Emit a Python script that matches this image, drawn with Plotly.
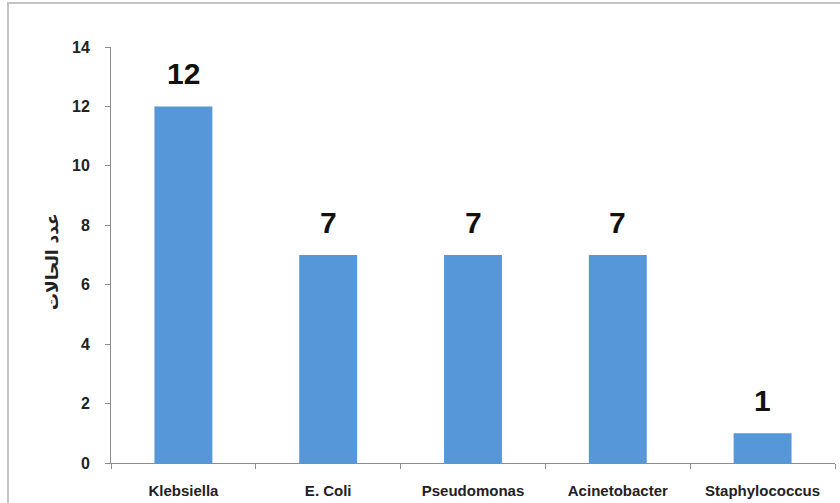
import plotly.graph_objects as go

# Number of cases per organism
organisms = ["Klebsiella", "E. Coli", "Pseudomonas", "Acinetobacter", "Staphylococcus"]
cases = [12, 7, 7, 7, 1]
y_ticks = [0, 2, 4, 6, 8, 10, 12, 14]

W, H = 840, 503
ML, MR, MT, MB = 111, 5, 47, 40
pw, ph = W - ML - MR, H - MT - MB


def px_x(x):
    return (x - ML) / pw


def px_y(y):
    return (H - MB - y) / ph


fig = go.Figure(
    go.Bar(
        x=organisms,
        y=cases,
        marker=dict(color="#5597d8", line=dict(width=0)),
        cliponaxis=False,
    )
)

# value labels above each bar
value_labels = [
    dict(
        x=org,
        y=val,
        xref="x",
        yref="y",
        text=str(val),
        showarrow=False,
        yanchor="bottom",
        yshift=14,
        font=dict(family="Liberation Sans Narrow, Liberation Sans, Arial", size=30, color="#111111", weight="bold"),
    )
    for org, val in zip(organisms, cases)
]

fig.update_layout(
    width=W,
    height=H,
    margin=dict(l=ML, r=MR, t=MT, b=MB),
    paper_bgcolor="white",
    plot_bgcolor="white",
    bargap=0.6,
    showlegend=False,
    xaxis=dict(
        type="category",
        showline=True,
        linecolor="#8c8c8c",
        linewidth=1,
        ticks="outside",
        tickson="boundaries",
        ticklen=5,
        tickcolor="#8c8c8c",
        ticklabelstandoff=14,
        tickfont=dict(family="Liberation Sans Narrow, Liberation Sans, Arial", size=15, color="#222222", weight="bold"),
        showgrid=False,
    ),
    yaxis=dict(
        range=[0, 14],
        tickvals=y_ticks,
        showline=True,
        linecolor="#8c8c8c",
        linewidth=1,
        ticks="outside",
        ticklen=5,
        tickcolor="#8c8c8c",
        ticklabelstandoff=12,
        tickfont=dict(family="Liberation Sans Narrow, Liberation Sans, Arial", size=16, color="#222222", weight="bold"),
        showgrid=False,
        zeroline=False,
    ),
    annotations=value_labels + [
        dict(
            text="عدد الحالات",
            xref="paper",
            yref="paper",
            x=px_x(40),
            y=px_y(262),
            textangle=-90,
            showarrow=False,
            font=dict(family="DejaVu Sans", size=17, color="#222222", weight="bold"),
        )
    ],
    shapes=[
        dict(
            type="rect",
            xref="paper",
            yref="paper",
            x0=px_x(8),
            x1=px_x(W + 20),
            y0=px_y(H + 20),
            y1=px_y(3),
            line=dict(color="#c4c4c4", width=2),
            layer="below",
        )
    ],
)

fig.write_html("out.html")
